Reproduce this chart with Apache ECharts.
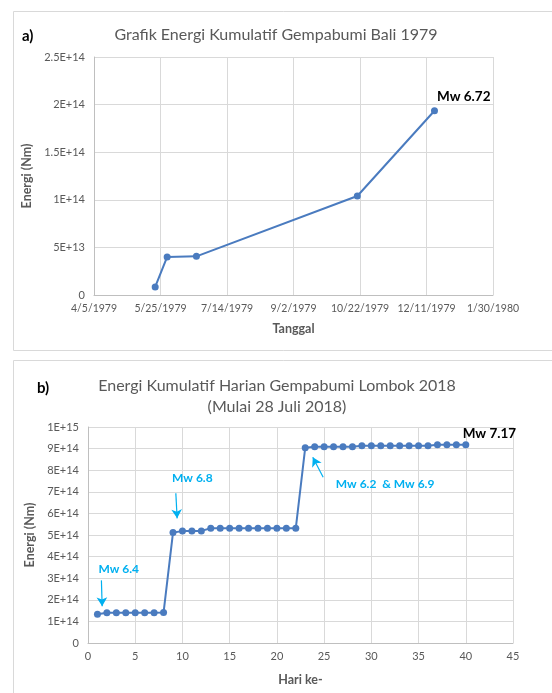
<!DOCTYPE html>
<html>
<head>
<meta charset="utf-8">
<script src="https://cdn.jsdelivr.net/npm/echarts@6/dist/echarts.min.js"></script>
<style>
  html, body { margin: 0; padding: 0; background: #fff; }
  #chart { width: 552px; height: 693px; }
</style>
</head>
<body>
<div id="chart"></div>
<script>
// a) Bali 1979
var baliStart = Date.UTC(1979, 3, 5);
var baliDates = ['1979-05-21', '1979-05-30', '1979-06-21', '1979-10-20', '1979-12-17'];
var baliEnergy = [8.5e12, 4.0e13, 4.06e13, 1.04e14, 1.935e14];

// b) Lombok 2018
var lombokDays = [];
for (var d = 1; d <= 40; d++) lombokDays.push(d);
var lombokEnergy = [
  1.33e14, 1.40e14, 1.40e14, 1.40e14, 1.40e14, 1.40e14, 1.40e14, 1.41e14,
  5.11e14, 5.19e14, 5.19e14, 5.19e14,
  5.31e14, 5.31e14, 5.31e14, 5.31e14, 5.31e14, 5.31e14, 5.31e14, 5.31e14, 5.31e14, 5.31e14,
  9.04e14, 9.09e14, 9.09e14, 9.09e14, 9.09e14, 9.09e14,
  9.13e14, 9.13e14, 9.13e14, 9.13e14, 9.13e14, 9.13e14, 9.13e14, 9.13e14,
  9.18e14, 9.18e14, 9.18e14, 9.18e14
];

var DAY = 86400000;
function dayOffset(s) {
  var p = s.split('-');
  return Math.round((Date.UTC(+p[0], +p[1] - 1, +p[2]) - baliStart) / DAY);
}
function fmtDate(v) {
  var t = new Date(baliStart + v * DAY);
  return (t.getUTCMonth() + 1) + '/' + t.getUTCDate() + '/' + t.getUTCFullYear();
}
function fmtExp(v) {
  if (v === 0) return '0';
  var e = Math.floor(Math.log10(v) + 1e-9);
  var m = +(v / Math.pow(10, e)).toFixed(2);
  return m + 'E+' + e;
}

var baliData = baliDates.map(function (s, i) { return [dayOffset(s), baliEnergy[i]]; });
var lombokData = lombokDays.map(function (x, i) { return [x, lombokEnergy[i]]; });

var font = 'Lato, "Open Sans", sans-serif';
var gray = '#595959';
var blue = '#4a7bbf';
var cyan = '#00b0f0';

function axisCommon() {
  return {
    axisLine: { show: true, lineStyle: { color: '#bfbfbf', width: 1 } },
    axisTick: { show: false },
    splitLine: { show: true, lineStyle: { color: '#d9d9d9', width: 1 } },
    axisLabel: { color: gray, fontFamily: font, fontSize: 10 },
    nameTextStyle: { color: gray, fontFamily: font, fontSize: 12.5, fontWeight: 'bold' }
  };
}

function textPoint(coord, text, color, size) {
  return {
    coord: coord,
    symbol: 'circle',
    symbolSize: 0,
    label: {
      show: true, position: 'inside', formatter: text,
      color: color, fontFamily: font, fontSize: size, fontWeight: 'bold'
    }
  };
}

function arrow(from, to) {
  return [{ coord: from }, { coord: to }];
}

var chart = echarts.init(document.getElementById('chart'));
chart.setOption({
  animation: false,
  backgroundColor: '#fff',
  graphic: [
    { type: 'rect', shape: { x: 13.5, y: 11.5, width: 560, height: 339 },
      style: { fill: 'none', stroke: '#d9d9d9', lineWidth: 1 } },
    { type: 'rect', shape: { x: 13.5, y: 360.5, width: 560, height: 360 },
      style: { fill: 'none', stroke: '#d9d9d9', lineWidth: 1 } },
    { type: 'text', left: 22, top: 29,
      style: { text: 'a)', fill: '#000', font: 'bold 15px ' + font } },
    { type: 'text', left: 37, top: 381,
      style: { text: 'b)', fill: '#000', font: 'bold 15px ' + font } }
  ],
  title: [
    { text: 'Grafik Energi Kumulatif Gempabumi Bali 1979', left: 271, top: 22, textAlign: 'center',
      textStyle: { color: gray, fontFamily: font, fontSize: 16, fontWeight: 'normal' } },
    { text: 'Energi Kumulatif Harian Gempabumi Lombok 2018\n(Mulai 28 Juli 2018)', left: 272, top: 370, textAlign: 'center',
      textStyle: { color: gray, fontFamily: font, fontSize: 16, fontWeight: 'normal', lineHeight: 21 } }
  ],
  grid: [
    { left: 94, top: 57, width: 399, height: 238 },
    { left: 88, top: 427, width: 425, height: 216 }
  ],
  xAxis: [
    Object.assign(axisCommon(), {
      gridIndex: 0, type: 'value', min: 0, max: 300, interval: 50,
      name: 'Tanggal', nameLocation: 'middle', nameGap: 27,
      axisLabel: { color: gray, fontFamily: font, fontSize: 10.5, margin: 8, formatter: fmtDate, showMaxLabel: true }
    }),
    Object.assign(axisCommon(), {
      gridIndex: 1, type: 'value', min: 0, max: 45, interval: 5,
      name: 'Hari ke-', nameLocation: 'middle', nameGap: 30,
      axisLabel: { color: gray, fontFamily: font, fontSize: 11, margin: 8 }
    })
  ],
  yAxis: [
    Object.assign(axisCommon(), {
      gridIndex: 0, type: 'value', min: 0, max: 2.5e14, interval: 5e13,
      name: 'Energi (Nm)', nameLocation: 'middle', nameGap: 48,
      axisLabel: { color: gray, fontFamily: font, fontSize: 11, margin: 9, formatter: fmtExp }
    }),
    Object.assign(axisCommon(), {
      gridIndex: 1, type: 'value', min: 0, max: 1e15, interval: 1e14,
      name: 'Energi (Nm)', nameLocation: 'middle', nameGap: 42,
      axisLabel: { color: gray, fontFamily: font, fontSize: 11, margin: 9, formatter: fmtExp }
    })
  ],
  series: [
    {
      type: 'line', xAxisIndex: 0, yAxisIndex: 0, data: baliData,
      symbol: 'circle', symbolSize: 7,
      lineStyle: { color: blue, width: 2 }, itemStyle: { color: blue },
      markPoint: {
        silent: true,
        data: [ textPoint([dayOffset('1979-12-17') + 22, 2.08e14], 'Mw 6.72', '#000', 13.5) ]
      }
    },
    {
      type: 'line', xAxisIndex: 1, yAxisIndex: 1, data: lombokData,
      symbol: 'circle', symbolSize: 7,
      lineStyle: { color: blue, width: 2 }, itemStyle: { color: blue },
      markPoint: {
        silent: true,
        data: [
          textPoint([3.26, 3.41e14], 'Mw 6.4', cyan, 12),
          textPoint([11.05, 7.64e14], 'Mw 6.8', cyan, 12),
          textPoint([31.46, 7.35e14], 'Mw 6.2  & Mw 6.9', cyan, 12),
          textPoint([42.5, 9.71e14], 'Mw 7.17', '#000', 13.5)
        ]
      },
      markLine: {
        silent: true,
        symbol: ['none', 'arrow'],
        symbolSize: [8, 9],
        lineStyle: { color: cyan, width: 1.2, type: 'solid' },
        label: { show: false },
        data: [
          arrow([1.42, 2.9e14], [1.5, 1.7e14]),
          arrow([9.3, 6.93e14], [9.44, 5.77e14]),
          arrow([24.9, 7.67e14], [23.8, 8.6e14])
        ]
      }
    }
  ]
});
</script>
</body>
</html>
